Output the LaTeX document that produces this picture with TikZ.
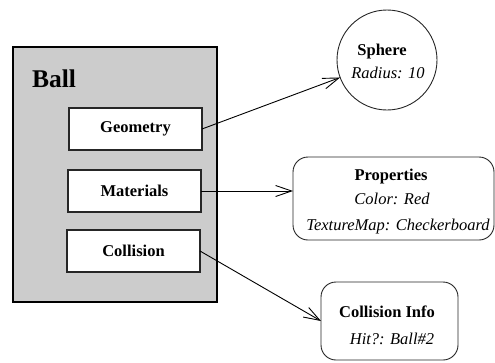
\documentclass[tikz,border=0pt]{standalone}
\usepackage{fontspec}
\setmainfont{Liberation Serif}
\usetikzlibrary{arrows.meta}
\begin{document}
\begin{tikzpicture}[x=1pt,y=-1pt,
  every node/.style={inner sep=0pt,outer sep=0pt},
  part/.style={draw=black!85,fill=white,line width=1.2pt,rectangle,minimum width=133pt,minimum height=42pt,font=\fontsize{16.5}{19}\selectfont\bfseries},
  info/.style={draw=black!85,fill=white,line width=0.9pt,rounded corners=15pt,rectangle},
  ttl/.style={anchor=base,font=\fontsize{16.5}{19}\selectfont\bfseries},
  attr/.style={anchor=base,font=\fontsize{16.5}{19}\selectfont\itshape},
  link/.style={line width=0.9pt,-{Straight Barb[length=16pt,width=11pt,line width=0.9pt]}}]
\useasboundingbox (0,0) rectangle (495,362);
% Ball container
\node[draw=black,line width=2.4pt,fill=black!20,rectangle,minimum width=204pt,minimum height=255pt] (ball) at (115,174.5) {};
\node[anchor=base west,font=\fontsize{25.5}{30}\selectfont\bfseries] (balllbl) at (32,87) {Ball};
\node[part] (geo) at (135.5,129) {Geometry};
\node[part] (mat) at (134.5,191) {Materials};
\node[part] (coll) at (133.5,251) {Collision};
% Sphere
\node[draw=black!85,line width=0.9pt,circle,minimum size=100pt] (sphere) at (387,60) {};
\node[ttl] (sphtitle) at (382,55) {Sphere};
\node[attr] (sphrad) at (388,78) {Radius: 10};
% Properties
\node[info,minimum width=201pt,minimum height=83pt] (props) at (393.5,198.5) {};
\node[ttl] (proptitle) at (391,180) {Properties};
\node[attr] (propcol) at (392,204) {Color: Red};
\node[attr] (proptex) at (398,230) {TextureMap: Checkerboard};
% Collision info
\node[info,minimum width=137pt,minimum height=78pt] (cinfo) at (389.5,321) {};
\node[ttl] (cititle) at (387,317) {Collision Info};
\node[attr] (cihit) at (392,344) {Hit?: Ball\#2};
% connectors
\draw[link] (geo.east) -- (sphere);
\draw[link] (mat.east) -- (mat.east -| props.west);
\draw[link] (coll.east) -- (cinfo.west);
\end{tikzpicture}
\end{document}
